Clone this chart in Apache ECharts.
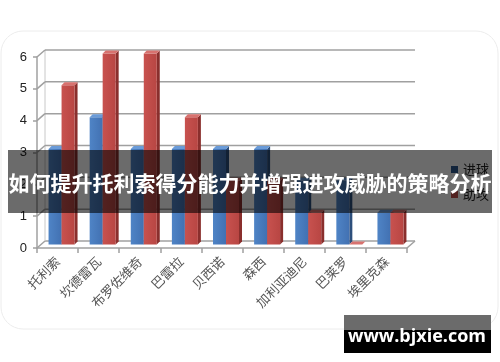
<!DOCTYPE html>
<html><head><meta charset="utf-8">
<script src="https://cdn.jsdelivr.net/npm/echarts@6/dist/echarts.min.js"></script>
<style>html,body{margin:0;padding:0;background:#fff;}#c{width:500px;height:362px;}</style>
</head><body><div id="c"></div>
<script>
const categories = ['托利索','坎德雷瓦','布罗佐维奇','巴雷拉','贝西诺','森西','加利亚迪尼','巴莱罗','埃里克森'];
const goals = [3,4,3,3,3,3,2,2,1];
const assists = [5,6,6,4,2,2,1,0,1];
const yTicks = [0,1,2,3,4,5,6];
const seriesNames = ['进球','助攻'];
const titleText = '如何提升托利索得分能力并增强进攻威胁的策略分析';
const watermark = 'www.bjxie.com';

const DX = 8, DY = -7;
const BW = 13, D = 3;

const chart = echarts.init(document.getElementById('c'), null, {renderer:'canvas'});

function barRender(colors, offset) {
  return function (params, api) {
    const i = api.value(0), v = api.value(1);
    const top = api.coord([i, v]);
    const base = api.coord([i, 0]);
    const cx = top[0] + DX / 2;
    const x = cx + offset;
    const yt = top[1] + DY / 2;
    const yb = base[1] + DY / 2;
    return {
      type: 'group',
      children: [
        { type: 'polygon', shape: { points: [[x + BW, yt], [x + BW + D, yt - D], [x + BW + D, yb - D], [x + BW, yb]] },
          style: { fill: colors.side } },
        { type: 'rect', shape: { x: x, y: yt, width: BW, height: Math.max(0, yb - yt) },
          style: { fill: new echarts.graphic.LinearGradient(0, 0, 1, 0, [
            { offset: 0, color: colors.f1 }, { offset: 1, color: colors.f2 }]) } },
        { type: 'polygon', shape: { points: [[x, yt], [x + D, yt - D], [x + BW + D, yt - D], [x + BW, yt]] },
          style: { fill: colors.top } }
      ]
    };
  };
}

const blue = { f1: '#4f84c6', f2: '#4271b2', side: '#2d4f7c', top: '#6a9bd8' };
const red = { f1: '#c8524f', f2: '#b84643', side: '#8a2f2d', top: '#d8726f' };

chart.setOption({
  animation: false,
  color: ['#2f5a8f', '#c0504d'],
  grid: { left: 37, right: 93, top: 57, bottom: 114 },
  legend: {
    data: seriesNames, orient: 'vertical', left: 446, top: 158, itemGap: 12,
    icon: 'rect', itemWidth: 7, itemHeight: 7,
    textStyle: { fontSize: 13, color: '#222', fontFamily: 'Noto Sans CJK SC' }
  },
  xAxis: {
    type: 'category', data: categories, boundaryGap: true,
    axisLine: { lineStyle: { color: '#a0a0a0', width: 1.5 } },
    axisTick: { show: true, length: 5, lineStyle: { color: '#a0a0a0', width: 1.5 } },
    axisLabel: { rotate: 45, fontSize: 13, color: '#555', margin: 11, fontFamily: 'Noto Sans CJK SC' }
  },
  yAxis: {
    type: 'value', min: 0, max: 6, interval: 1,
    axisLine: { show: true, lineStyle: { color: '#a0a0a0', width: 1.5 } },
    axisTick: { show: true, length: 4, lineStyle: { color: '#a0a0a0', width: 1.5 } },
    axisLabel: { fontSize: 13, color: '#222', margin: 10, fontFamily: 'Liberation Sans' },
    splitLine: { show: false }
  },
  series: [
    {
      type: 'custom', name: 'walls', silent: true, z: 1,
      data: yTicks.map(v => [0, v]),
      renderItem: function (params, api) {
        const cs = params.coordSys;
        const v = api.value(1);
        const y = api.coord([0, v])[1];
        const ch = [
          { type: 'line', shape: { x1: cs.x, y1: y, x2: cs.x + DX, y2: y + DY }, style: { stroke: '#a0a0a0', lineWidth: 1.5 } },
          { type: 'line', shape: { x1: cs.x + DX, y1: y + DY, x2: cs.x + cs.width + DX, y2: y + DY }, style: { stroke: '#a0a0a0', lineWidth: 1.5 } }
        ];
        if (v === 0) {
          ch.push({ type: 'line', shape: { x1: cs.x + cs.width, y1: y, x2: cs.x + cs.width + DX, y2: y + DY }, style: { stroke: '#a0a0a0', lineWidth: 1.5 } });
          ch.push({ type: 'line', shape: { x1: cs.x + DX, y1: y + DY, x2: cs.x + DX, y2: cs.y + DY }, style: { stroke: '#c8c8c8', lineWidth: 1 } });
        }
        return { type: 'group', children: ch };
      }
    },
    {
      type: 'custom', name: seriesNames[0], z: 3, itemStyle: { color: '#2f5a8f' },
      data: goals.map((v, i) => [i, v]),
      renderItem: barRender(blue, -BW)
    },
    {
      type: 'custom', name: seriesNames[1], z: 4, itemStyle: { color: '#c0504d' },
      data: assists.map((v, i) => [i, v]),
      renderItem: barRender(red, 0)
    }
  ],
  graphic: [
    { type: 'rect', z: 0, silent: true, shape: { x: 1, y: 31, width: 497, height: 298, r: 22 },
      style: { fill: 'none', stroke: '#ececec', lineWidth: 1 } },
    { type: 'rect', z: 100, shape: { x: 8, y: 150, width: 484, height: 63 },
      style: { fill: 'rgba(0,0,0,0.58)' } },
    { type: 'text', z: 101, x: 250, y: 183,
      style: { text: titleText, fill: '#fff', font: 'bold 21px "Noto Sans CJK SC"', textAlign: 'center', textVerticalAlign: 'middle' } },
    { type: 'rect', z: 100, shape: { x: 344, y: 315, width: 147, height: 15 }, style: { fill: '#6b6b6b' } },
    { type: 'rect', z: 100, shape: { x: 344, y: 330, width: 147, height: 23 }, style: { fill: '#000' } },
    { type: 'text', z: 101, x: 417, y: 337,
      style: { text: watermark, fill: '#fff', font: 'bold 18px "Open Sans"', textAlign: 'center', textVerticalAlign: 'middle' } }
  ]
});
</script>
</body></html>
